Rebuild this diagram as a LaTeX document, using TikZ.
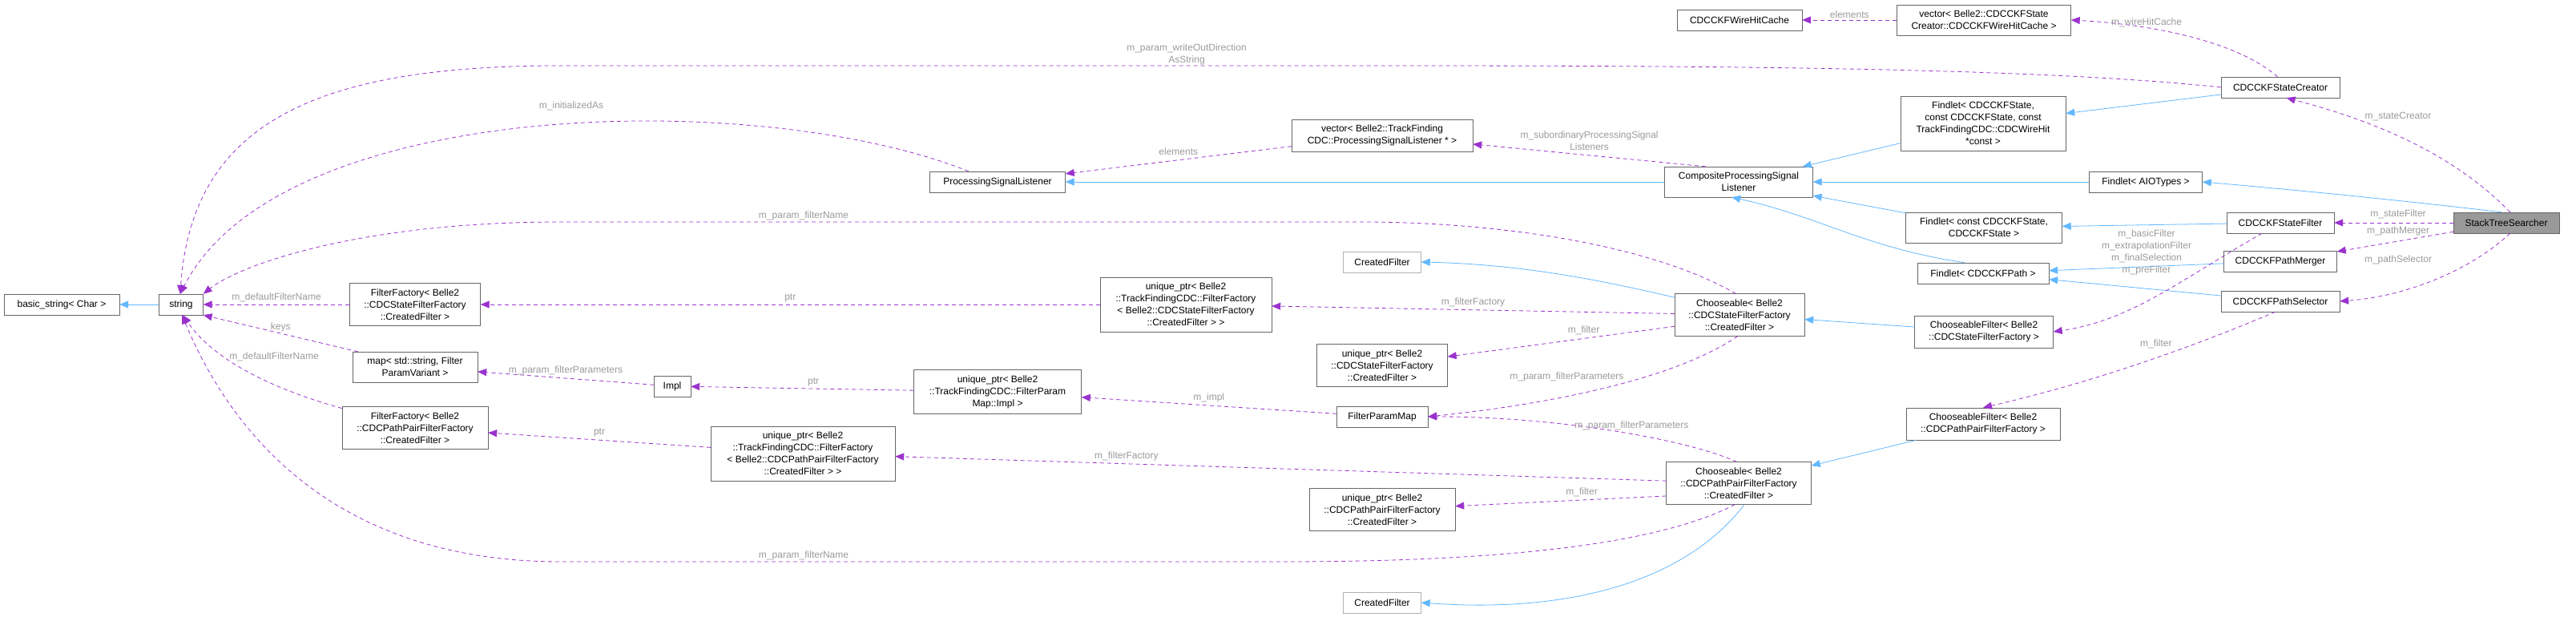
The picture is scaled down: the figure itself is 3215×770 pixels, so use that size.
\documentclass[tikz,border=0pt]{standalone}
\usepackage{fontspec}
\setmainfont{Liberation Sans}
\usetikzlibrary{arrows.meta,positioning}
\definecolor{inhblue}{RGB}{99,184,255}
\definecolor{usepurple}{RGB}{154,50,205}
\definecolor{lblgray}{RGB}{154,154,154}
\tikzset{
  cls/.style={draw=black!60, fill=white, font=\fontsize{12}{15}\selectfont, inner xsep=2pt, inner ysep=7pt, minimum height=26pt, align=center},
  light/.style={cls, draw=black!30},
  inh/.style={draw=inhblue, thick, -{Triangle[length=11pt,width=9pt]}},
  use/.style={draw=usepurple, thick, dashed, dash pattern=on 5pt off 4pt, -{Triangle[length=11pt,width=9pt]}},
  lbl/.style={text=lblgray, font=\fontsize{12}{15}\selectfont, align=center, inner sep=0}
}
\begin{document}
\begin{tikzpicture}[x=1pt,y=1pt]
  \useasboundingbox (0,0) rectangle (3215,770);
  % left column
  \node[cls,minimum width=144pt] (bstr) at (77,390) {basic\_string< Char >};
  \node[cls,minimum width=55pt] (str) at (226,390) {string};
  \node[cls,minimum width=163pt] (ffs) at (518,390) {FilterFactory< Belle2\\::CDCStateFilterFactory\\::CreatedFilter >};
  \node[cls,minimum width=156pt] (map) at (518,312) {map< std::string, Filter\\ParamVariant >};
  \node[cls,minimum width=46pt] (impl) at (839,288) {Impl};
  \node[cls,minimum width=182pt] (ffp) at (518,236) {FilterFactory< Belle2\\::CDCPathPairFilterFactory\\::CreatedFilter >};
  \node[cls,minimum width=230pt] (upfp) at (1002,204) {unique\_ptr< Belle2\\::TrackFindingCDC::FilterFactory\\< Belle2::CDCPathPairFilterFactory\\::CreatedFilter > >};
  % middle column
  \node[cls,minimum width=169pt] (psl) at (1245,543) {ProcessingSignalListener};
  \node[cls,minimum width=226pt] (vpsl) at (1725,601) {vector< Belle2::TrackFinding\\CDC::ProcessingSignalListener * >};
  \node[light,minimum width=97pt] (cft) at (1725,443) {CreatedFilter};
  \node[cls,minimum width=214pt] (upsf) at (1480,390) {unique\_ptr< Belle2\\::TrackFindingCDC::FilterFactory\\< Belle2::CDCStateFilterFactory\\::CreatedFilter > >};
  \node[cls,minimum width=163pt] (upsc) at (1725,314) {unique\_ptr< Belle2\\::CDCStateFilterFactory\\::CreatedFilter >};
  \node[cls,minimum width=209pt] (upim) at (1245,281) {unique\_ptr< Belle2\\::TrackFindingCDC::FilterParam\\Map::Impl >};
  \node[cls,minimum width=114pt] (fpm) at (1725,250) {FilterParamMap};
  \node[cls,minimum width=182pt] (uppc) at (1725,134) {unique\_ptr< Belle2\\::CDCPathPairFilterFactory\\::CreatedFilter >};
  \node[light,minimum width=97pt] (cfb) at (1725,18) {CreatedFilter};
  \node[cls,minimum width=185pt] (cpsl) at (2170,543) {CompositeProcessingSignal\\Listener};
  \node[cls,minimum width=162pt] (chs) at (2171,377) {Chooseable< Belle2\\::CDCStateFilterFactory\\::CreatedFilter >};
  \node[cls,minimum width=181pt] (chp) at (2170,167) {Chooseable< Belle2\\::CDCPathPairFilterFactory\\::CreatedFilter >};
  % right column
  \node[cls,minimum width=156pt] (whc) at (2171,745) {CDCCKFWireHitCache};
  \node[cls,minimum width=217pt] (vsc) at (2476,745) {vector< Belle2::CDCCKFState\\Creator::CDCCKFWireHitCache >};
  \node[cls,minimum width=148pt] (stc) at (2846,661) {CDCCKFStateCreator};
  \node[cls,minimum width=206pt] (fsc) at (2475,616) {Findlet< CDCCKFState,\\const CDCCKFState, const\\TrackFindingCDC::CDCWireHit\\*const >};
  \node[cls,minimum width=141pt] (faio) at (2678,543) {Findlet< AIOTypes >};
  \node[cls,minimum width=134pt] (ssf) at (2846,492) {CDCCKFStateFilter};
  \node[cls,minimum width=132pt,fill=black!40] (sts) at (3128,492) {StackTreeSearcher};
  \node[cls,minimum width=195pt] (fcs) at (2476,486) {Findlet< const CDCCKFState,\\CDCCKFState >};
  \node[cls,minimum width=141pt] (spm) at (2846,444) {CDCCKFPathMerger};
  \node[cls,minimum width=164pt] (fcp) at (2475,429) {Findlet< CDCCKFPath >};
  \node[cls,minimum width=148pt] (sps) at (2846,394) {CDCCKFPathSelector};
  \node[cls,minimum width=173pt] (cfs) at (2476,356) {ChooseableFilter< Belle2\\::CDCStateFilterFactory >};
  \node[cls,minimum width=192pt] (cfp) at (2475,241) {ChooseableFilter< Belle2\\::CDCPathPairFilterFactory >};

  % inheritance
  \draw[inh] (str) -- (bstr);
  \draw[inh] (cpsl) -- (psl);
  \draw[inh] (fsc) -- (cpsl);
  \draw[inh] (faio) -- (cpsl);
  \draw[inh] (fcs) -- (cpsl);
  \draw[inh] (fcp.150) .. controls (2330,460) and (2270,500) .. (cpsl.-115);
  \draw[inh] (stc) -- (fsc);
  \draw[inh] (sts.115) .. controls (3040,515) and (2900,530) .. (faio.east);
  \draw[inh] (ssf) -- (fcs);
  \draw[inh] (spm) -- (fcp);
  \draw[inh] (sps) -- (fcp);
  \draw[inh] (chs.165) .. controls (2000,420) and (1900,440) .. (cft.east);
  \draw[inh] (cfs) -- (chs);
  \draw[inh] (cfp) -- (chp);
  \draw[inh] (chp.-75) .. controls (2100,40) and (1950,5) .. (cfb.east);

  % usage
  \draw[use] (sts.70) .. controls (3060,580) and (2960,620) .. (stc.-60);
  \node[lbl] (lsc) at (2993,624) {m\_stateCreator};
  \draw[use] (sts) -- (ssf);
  \node[lbl] (lsf1) at (2993,503) {m\_stateFilter};
  \draw[use] (sts) -- (spm);
  \node[lbl] (lpm) at (2993,482) {m\_pathMerger};
  \draw[use] (sts.-70) .. controls (3080,430) and (3000,400) .. (sps.east);
  \node[lbl] (lps) at (2993,446) {m\_pathSelector};
  \draw[use] (stc.105) .. controls (2790,720) and (2680,740) .. (vsc.east);
  \node[lbl] (lwhc) at (2679,742) {m\_wireHitCache};
  \draw[use] (vsc) -- (whc) node[lbl,midway,above=2pt] {elements};
  \draw[use] (stc.west) .. controls (2500,690) and (2000,688) .. (1500,688) -- (700,688) .. controls (400,688) and (240,620) .. (str.95);
  \node[lbl] (lwod) at (1481,702) {m\_param\_writeOutDirection\\AsString};
  \draw[use] (cpsl.155) -- (vpsl) node[lbl,midway,above=6pt] {m\_subordinaryProcessingSignal\\Listeners};
  \draw[use] (vpsl) -- (psl) node[lbl,midway,above=6pt] {elements};
  \draw[use] (psl.160) .. controls (950,660) and (350,650) .. (str.95);
  \node[lbl] (linit) at (713,638) {m\_initializedAs};
  \draw[use] (chs.100) .. controls (2050,470) and (1850,493) .. (1700,493) -- (700,493) .. controls (450,493) and (300,440) .. (str.north east);
  \node[lbl] (lfnt) at (1003,501) {m\_param\_filterName};
  \draw[use] (chp.-100) .. controls (2050,80) and (1800,69) .. (1600,69) -- (700,69) .. controls (400,69) and (280,250) .. (str.-85);
  \node[lbl] (lfnb) at (1003,77) {m\_param\_filterName};
  \draw[use] (ffs) -- (str) node[lbl,midway,above=3pt] {m\_defaultFilterName};
  \draw[use] (map.165) -- (str.south east) node[lbl,pos=0.5,above=2pt] {keys};
  \draw[use] (ffp.165) .. controls (320,290) and (260,330) .. (str.-80);
  \node[lbl] (ldfb) at (342,325) {m\_defaultFilterName};
  \draw[use] (upsf) -- (ffs) node[lbl,midway,above=3pt] {ptr};
  \draw[use] (upim) -- (impl) node[lbl,pos=0.45,above=3pt] {ptr};
  \draw[use] (impl) -- (map) node[lbl,midway,above=4pt] {m\_param\_filterParameters};
  \draw[use] (upfp) -- (ffp) node[lbl,midway,above=4pt] {ptr};
  \draw[use] (fpm) -- (upim) node[lbl,midway,above=4pt] {m\_impl};
  \draw[use] (chs) -- (upsf) node[lbl,pos=0.5,above=3pt] {m\_filterFactory};
  \draw[use] (chs.-170) -- (upsc) node[lbl,pos=0.4,above=4pt] {m\_filter};
  \draw[use] (chs.-95) .. controls (2080,290) and (1900,262) .. (fpm.east) node[lbl,pos=0.4,above left=2pt] {m\_param\_filterParameters};
  \draw[use] (chp.95) .. controls (2110,220) and (1950,250) .. (fpm.east) node[lbl,pos=0.45,above=4pt] {m\_param\_filterParameters};
  \draw[use] (chp) -- (upfp) node[lbl,pos=0.7,above=3pt] {m\_filterFactory};
  \draw[use] (chp.-170) -- (uppc) node[lbl,pos=0.4,above=4pt] {m\_filter};
  \draw[use] (ssf.-150) .. controls (2720,420) and (2660,370) .. (cfs.east);
  \node[lbl] (lsf) at (2679,455) {m\_basicFilter\\m\_extrapolationFilter\\m\_finalSelection\\m\_preFilter};
  \draw[use] (sps.-115) .. controls (2720,330) and (2600,290) .. (cfp.north) node[lbl,pos=0.35,above left=4pt] {m\_filter};
\end{tikzpicture}
\end{document}
